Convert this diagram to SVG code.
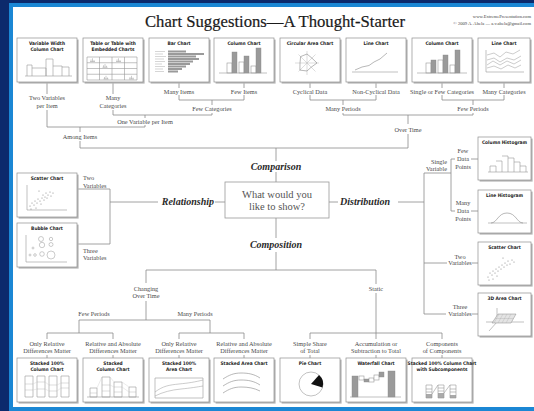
<svg xmlns="http://www.w3.org/2000/svg" width="534" height="411" viewBox="0 0 534 411">
<defs>
<style>
.lbl{font-family:"Liberation Serif",serif;font-size:6.3px;fill:#4a4a4a;text-anchor:middle}
.lbll{font-family:"Liberation Serif",serif;font-size:6.3px;fill:#4a4a4a}
.lble{font-family:"Liberation Serif",serif;font-size:6.3px;fill:#4a4a4a;text-anchor:end}
.cat{font-family:"Liberation Serif",serif;font-size:10px;font-weight:bold;font-style:italic;fill:#2a2a2a}
.bt{font-family:"Liberation Sans Narrow","DejaVu Sans Condensed","Liberation Sans",sans-serif;font-stretch:condensed;font-size:4.8px;font-weight:bold;fill:#222;text-anchor:middle}
.ln{stroke:#8c8c8c;stroke-width:0.8;fill:none}
.box{fill:#fff;stroke:#8f8f8f;stroke-width:0.7}
.sh{fill:#b5b5b5}
.cl{stroke:#999;stroke-width:0.6;fill:none}
.cw{stroke:#999;stroke-width:0.6;fill:#fff}
.cg{fill:#9a9a9a;stroke:#888;stroke-width:0.4}
.dot{fill:#888}
</style>
<g id="frame60"><rect class="sh" x="1.6" y="1.6" width="60" height="44"/><rect class="box" x="0" y="0" width="60" height="44"/></g>
<g id="frame53"><rect class="sh" x="1.6" y="1.6" width="53" height="43"/><rect class="box" x="0" y="0" width="53" height="43"/></g>
<path id="ic" d="M0,0h5M1,0v-2M2.5,0v-3.2M4,0v-1.5" stroke="#999" stroke-width="0.5" fill="none"/>
</defs>
<rect x="0" y="0" width="534" height="411" fill="#0c2a6c"/>
<rect x="9" y="3" width="525" height="408" fill="#1b87d4"/>
<rect x="13" y="7" width="521" height="400" fill="#ffffff"/>

<text x="275" y="27" font-family="Liberation Serif,serif" font-size="17" fill="#1a1a1a" stroke="#1a1a1a" stroke-width="0.2" text-anchor="middle" textLength="260" lengthAdjust="spacingAndGlyphs">Chart Suggestions—A Thought-Starter</text>
<text x="531" y="18" font-family="Liberation Serif,serif" font-size="4.6" fill="#444" text-anchor="end">www.ExtremePresentation.com</text>
<text x="531" y="25" font-family="Liberation Serif,serif" font-size="4.6" fill="#444" text-anchor="end">© 2009  A. Abela — a.v.abela@gmail.com</text>

<g id="connectors" class="ln">
<path d="M47,82V94M113,82V94M179,82V88M244,82V88M310,82V88M376,82V88M442,82V88M504,82V88"/>
<path d="M179,95V100H244V95M212,100V105M212,113V115H113V110M145,115V118M145,125V127H47V110M80,127V132M80,141V148H408M276,148V161M276,172V182"/>
<path d="M310,95V100H376V95M343,100V105M343,113V115H473V113M473,105V100M442,95V100H504V95M408,115V124M408,134V148"/>
<path d="M276,218V238M276,252V270M146,270H376M146,270V283M146,301V320M79,320H210M79,320V333M47,333H113M47,333V339M113,333V339M210,320V333M179,333H244M179,333V339M244,333V339M376,270V284M376,293V339M310,333H442M310,333V339M442,333V339"/>
<path d="M47,355V358M113,355V358M179,355V358M244,355V358M310,355V358M376,355V358M442,355V358"/>
<path d="M225,202H215M158,202H110M77,189H110V244H77"/>
<path d="M329,202H338M398,202H424M424,173V314M424,173H451M451,159V211M451,159H455M471,159H478M451,211H455M471,211H478M424,263H447M472,263H478M424,314H446M472,314H478"/>
</g>

<g id="labels">
<text class="lbl" x="47" y="100">Two Variables</text><text class="lbl" x="47" y="108">per Item</text>
<text class="lbl" x="113" y="100">Many</text><text class="lbl" x="113" y="108">Categories</text>
<text class="lbl" x="179" y="94">Many Items</text>
<text class="lbl" x="244" y="94">Few Items</text>
<text class="lbl" x="310" y="94">Cyclical Data</text>
<text class="lbl" x="376" y="94">Non-Cyclical Data</text>
<text class="lbl" x="442" y="94">Single or Few Categories</text>
<text class="lbl" x="504" y="94">Many Categories</text>
<text class="lbl" x="212" y="111">Few Categories</text>
<text class="lbl" x="343" y="111">Many Periods</text>
<text class="lbl" x="473" y="111">Few Periods</text>
<text class="lbl" x="145" y="124">One Variable per Item</text>
<text class="lbl" x="80" y="139">Among Items</text>
<text class="lbl" x="408" y="132">Over Time</text>
<text class="lbll" x="83" y="180">Two</text><text class="lbll" x="83" y="188">Variables</text>
<text class="lbll" x="83" y="253">Three</text><text class="lbll" x="83" y="260">Variables</text>
<text class="lble" x="447" y="164">Single</text><text class="lble" x="447" y="171">Variable</text>
<text class="lbl" x="463" y="153">Few</text><text class="lbl" x="463" y="161">Data</text><text class="lbl" x="463" y="169">Points</text>
<text class="lbl" x="463" y="205">Many</text><text class="lbl" x="463" y="213">Data</text><text class="lbl" x="463" y="221">Points</text>
<text class="lbl" x="460" y="259">Two</text><text class="lbl" x="460" y="265">Variables</text>
<text class="lbl" x="460" y="309">Three</text><text class="lbl" x="460" y="316">Variables</text>
<text class="lbl" x="146" y="291">Changing</text><text class="lbl" x="146" y="298">Over Time</text>
<text class="lbl" x="376" y="291">Static</text>
<text class="lbl" x="94" y="316">Few Periods</text>
<text class="lbl" x="195" y="316">Many Periods</text>
<text class="lbl" x="47" y="346">Only Relative</text><text class="lbl" x="47" y="353">Differences Matter</text>
<text class="lbl" x="113" y="346">Relative and Absolute</text><text class="lbl" x="113" y="353">Differences Matter</text>
<text class="lbl" x="179" y="346">Only Relative</text><text class="lbl" x="179" y="353">Differences Matter</text>
<text class="lbl" x="244" y="346">Relative and Absolute</text><text class="lbl" x="244" y="353">Differences Matter</text>
<text class="lbl" x="310" y="346">Simple Share</text><text class="lbl" x="310" y="353">of Total</text>
<text class="lbl" x="376" y="346">Accumulation or</text><text class="lbl" x="376" y="353">Subtraction to Total</text>
<text class="lbl" x="442" y="346">Components</text><text class="lbl" x="442" y="353">of Components</text>
</g>

<g id="center">
<rect x="225" y="182" width="104" height="36" fill="#fff" stroke="#999" stroke-width="0.8"/>
<text x="277" y="198" font-family="Liberation Serif,serif" font-size="10.5" fill="#555" text-anchor="middle">What would you</text>
<text x="277" y="210" font-family="Liberation Serif,serif" font-size="10.5" fill="#555" text-anchor="middle">like to show?</text>
</g>
<g id="comparison"><text class="cat" x="276" y="170" text-anchor="middle">Comparison</text></g>
<g id="composition"><text class="cat" x="276" y="248" text-anchor="middle">Composition</text></g>
<g id="relationship"><text class="cat" x="214" y="205" text-anchor="end">Relationship</text></g>
<g id="distribution"><text class="cat" x="340" y="205">Distribution</text></g>

<!-- top row -->
<g id="variable-width-column" transform="translate(17,38)"><use href="#frame60"/>
<text class="bt" x="30" y="7">Variable Width</text><text class="bt" x="30" y="12.5">Column Chart</text>
<path class="cl" d="M8,38H55M10,38V27H15V38M15,30H29V38M29,38V21H36V38M36,28H45V38M45,29H52V38"/>
</g>
<g id="table" transform="translate(83,38)"><use href="#frame60"/>
<text class="bt" x="30" y="7">Table or Table with</text><text class="bt" x="30" y="12.5">Embedded Charts</text>
<path class="cl" d="M4,19H54V42H4ZM16.5,19V42M29,19V42M41.5,19V42M4,24.75H54M4,30.5H54M4,36.25H54"/>
<use href="#ic" x="7" y="23.5"/><use href="#ic" x="33" y="23.5"/><use href="#ic" x="19.5" y="29.3"/><use href="#ic" x="20.5" y="41"/><use href="#ic" x="46" y="41"/>
</g>
<g id="bar-chart" transform="translate(149,38)"><use href="#frame60"/>
<text class="bt" x="30" y="7">Bar Chart</text>
<path d="M6,13.5H16M6,16H14M6,18.5H17M6,21H15M6,23.5H16M6,26H13M6,28.5H16M6,31H14M6,33.5H15" stroke="#bbb" stroke-width="0.6"/>
<g fill="#9a9a9a"><rect x="19" y="12.5" width="18" height="2"/><rect x="19" y="15" width="36" height="2"/><rect x="19" y="17.5" width="28" height="2"/><rect x="19" y="20" width="31" height="2"/><rect x="19" y="22.5" width="25" height="2"/><rect x="19" y="25" width="22" height="2"/><rect x="19" y="27.5" width="18" height="2"/><rect x="19" y="30" width="14" height="2"/><rect x="19" y="32.5" width="10" height="2"/></g>
</g>
<g id="column-chart-1" transform="translate(214,38)"><use href="#frame60"/>
<text class="bt" x="30" y="7">Column Chart</text>
<rect class="cw" x="13" y="25" width="5" height="10"/><rect class="cg" x="18" y="14" width="5" height="21"/>
<rect class="cw" x="25" y="24" width="5" height="11"/><rect class="cg" x="30" y="18" width="5" height="17"/>
<rect class="cw" x="37" y="28" width="5" height="7"/><rect class="cg" x="42" y="10" width="5" height="25"/>
<path class="cl" d="M5,35H53"/>
</g>
<g id="circular-area" transform="translate(280,38)"><use href="#frame60"/>
<text class="bt" x="30" y="7">Circular Area Chart</text>
<path d="M27,25L27,13M27,25L35.5,16.5M27,25L39,25M27,25L35.5,33.5M27,25L27,37M27,25L18.5,33.5M27,25L15,25M27,25L18.5,16.5" stroke="#bbb" stroke-width="0.5"/>
<path d="M27,16L31.9,20.1L37,25L31.2,29.2L27,33L19.9,32.1L20,25L20.6,18.6Z" fill="none" stroke="#888" stroke-width="0.6"/>
</g>
<g id="line-chart-1" transform="translate(346,38)"><use href="#frame60"/>
<text class="bt" x="30" y="7">Line Chart</text>
<path class="cl" d="M6,34H52"/>
<path d="M9,32L16,29L23,27.5L28,24L34,21L41,15" stroke="#888" stroke-width="0.6" fill="none"/>
</g>
<g id="column-chart-2" transform="translate(412,38)"><use href="#frame60"/>
<text class="bt" x="30" y="7">Column Chart</text>
<rect class="cw" x="14" y="25" width="5" height="10"/><rect class="cg" x="19" y="22" width="5" height="13"/>
<rect class="cw" x="26" y="22" width="5" height="13"/><rect class="cg" x="31" y="17" width="5" height="18"/>
<rect class="cw" x="38" y="27" width="5" height="8"/><rect class="cg" x="43" y="12" width="5" height="23"/>
<path class="cl" d="M5,35H55"/>
</g>
<g id="line-chart-2" transform="translate(478,38)">
<rect class="sh" x="1.6" y="1.6" width="52" height="44"/><rect class="box" x="0" y="0" width="52" height="44"/>
<text class="bt" x="26" y="7">Line Chart</text>
<path class="cl" d="M8,12V34H46"/>
<path d="M9,17L16,15L22,19L28,14L35,16L42,12M9,22L16,20L22,24L29,20L36,22L43,18M9,27L15,23L22,27L29,23L36,26L43,22M9,30L16,28L23,31L30,27L37,30L43,27" stroke="#999" stroke-width="0.5" fill="none"/>
</g>

<!-- relationship -->
<g id="scatter-left" transform="translate(17,173)"><use href="#frame60"/>
<text class="bt" x="30" y="7">Scatter Chart</text>
<path class="cl" d="M10,12V37H50"/>
<g class="dot"><circle cx="13" cy="33" r="0.6"/><circle cx="15" cy="30" r="0.6"/><circle cx="17" cy="32" r="0.6"/><circle cx="18" cy="28" r="0.6"/><circle cx="20" cy="30" r="0.6"/><circle cx="21" cy="26" r="0.6"/><circle cx="23" cy="28" r="0.6"/><circle cx="24" cy="31" r="0.6"/><circle cx="25" cy="25" r="0.6"/><circle cx="26" cy="22" r="0.6"/><circle cx="27" cy="27" r="0.6"/><circle cx="28" cy="24" r="0.6"/><circle cx="29" cy="20" r="0.6"/><circle cx="30" cy="25" r="0.6"/><circle cx="31" cy="22" r="0.6"/><circle cx="33" cy="19" r="0.6"/><circle cx="34" cy="23" r="0.6"/><circle cx="36" cy="20" r="0.6"/><circle cx="22" cy="18" r="0.6"/><circle cx="14" cy="36" r="0.6"/><circle cx="19" cy="35" r="0.6"/></g>
</g>
<g id="bubble" transform="translate(17,223)"><use href="#frame60"/>
<text class="bt" x="30" y="7">Bubble Chart</text>
<path class="cl" d="M9,12V39H50"/>
<g fill="none" stroke="#999" stroke-width="0.5"><circle cx="24" cy="16" r="2.5"/><circle cx="34" cy="16" r="1.7"/><circle cx="25" cy="22" r="2.7"/><circle cx="34" cy="21.5" r="2"/><circle cx="16" cy="25" r="1"/><circle cx="25" cy="31" r="2.3"/><circle cx="34" cy="32" r="4"/><circle cx="13" cy="32" r="1"/><circle cx="18" cy="32" r="1.3"/></g>
</g>

<!-- distribution -->
<g id="column-histogram" transform="translate(478,137)"><use href="#frame53"/>
<text class="bt" x="26.5" y="7">Column Histogram</text>
<path class="cl" d="M10,35H50M12,35V29H18V35M18,24H24V35M24,19H30V35M30,21H36V35M36,25H42V35M42,29H48V35"/>
</g>
<g id="line-histogram" transform="translate(478,190)"><use href="#frame53"/>
<text class="bt" x="26.5" y="7">Line Histogram</text>
<path class="cl" d="M10,33H49"/>
<path d="M13,33C19,33 20,23 29,23C38,23 39,33 45,33" stroke="#888" stroke-width="0.6" fill="none"/>
</g>
<g id="scatter-right" transform="translate(478,242)"><use href="#frame53"/>
<text class="bt" x="26.5" y="7">Scatter Chart</text>
<g class="dot"><circle cx="10" cy="35" r="0.6"/><circle cx="12" cy="31" r="0.6"/><circle cx="14" cy="33" r="0.6"/><circle cx="15" cy="29" r="0.6"/><circle cx="17" cy="31" r="0.6"/><circle cx="18" cy="27" r="0.6"/><circle cx="20" cy="29" r="0.6"/><circle cx="21" cy="25" r="0.6"/><circle cx="23" cy="27" r="0.6"/><circle cx="24" cy="23" r="0.6"/><circle cx="26" cy="25" r="0.6"/><circle cx="27" cy="21" r="0.6"/><circle cx="29" cy="23" r="0.6"/><circle cx="30" cy="19" r="0.6"/><circle cx="32" cy="22" r="0.6"/><circle cx="34" cy="18" r="0.6"/><circle cx="36" cy="20" r="0.6"/><circle cx="25" cy="16" r="0.6"/><circle cx="11" cy="38" r="0.6"/><circle cx="15" cy="37" r="0.6"/><circle cx="19" cy="34" r="0.6"/></g>
</g>
<g id="area-3d" transform="translate(478,293)"><use href="#frame53"/>
<text class="bt" x="26.5" y="7">3D Area Chart</text>
<path class="cl" d="M8,29H46M19,15V29L11,38"/>
<path d="M14,30L20,21H38L33,30Z" fill="#e4e4e4" stroke="#888" stroke-width="0.5"/>
<path d="M17,25.5H35M21,21L16,30M25,21L20,30M29,21L24,30M33,21L28,30" stroke="#aaa" stroke-width="0.35" fill="none"/>
</g>

<!-- bottom row -->
<g id="stacked-100-column" transform="translate(17,358)"><use href="#frame60"/>
<text class="bt" x="30" y="7">Stacked 100%</text><text class="bt" x="30" y="12.5">Column Chart</text>
<path class="cl" d="M8,18H16V39H8ZM20,18H28V39H20ZM32,18H40V39H32ZM44,18H52V39H44Z"/>
<path d="M8,26H16M8,32H16M20,24H28M20,31H28M32,27H40M32,33H40M44,25H52M44,30H52" stroke="#aaa" stroke-width="0.4"/>
<path d="M16,26L20,24M16,32L20,31M28,24L32,27M28,31L32,33M40,27L44,25M40,33L44,30" stroke="#ccc" stroke-width="0.4"/>
</g>
<g id="stacked-column" transform="translate(83,358)"><use href="#frame60"/>
<text class="bt" x="30" y="7">Stacked</text><text class="bt" x="30" y="12.5">Column Chart</text>
<path class="cl" d="M7,30H14V39H7ZM19,19H27V39H19ZM31,24H39V39H31ZM46,29H53V39H46Z"/>
<path d="M19,27H27M19,33H27M31,29H39M31,34H39M46,34H53M7,35H14" stroke="#aaa" stroke-width="0.4"/>
<path d="M14,30L19,19M27,19L31,24M39,24L46,29M27,27L31,29M39,29L46,34" stroke="#ccc" stroke-width="0.4"/>
<path class="cl" d="M4,39H56"/>
</g>
<g id="stacked-100-area" transform="translate(149,358)"><use href="#frame60"/>
<text class="bt" x="30" y="7">Stacked 100%</text><text class="bt" x="30" y="12.5">Area Chart</text>
<path class="cl" d="M6,20H54V40H6Z"/>
<path d="M6,34C14,28 20,27 30,26C40,25 46,24 54,22M6,38C14,34 22,32 32,31C42,30 48,29 54,28" stroke="#999" stroke-width="0.5" fill="none"/>
</g>
<g id="stacked-area" transform="translate(214,358)"><use href="#frame60"/>
<text class="bt" x="30" y="7">Stacked Area Chart</text>
<path d="M9,21C15,17 20,15 27,15C34,15 40,16 46,20M9,28C15,24 20,22 27,22C34,22 40,23 46,27M9,35C15,31 20,29 27,29C34,29 40,30 46,33" stroke="#888" stroke-width="0.6" fill="none"/>
</g>
<g id="pie" transform="translate(280,358)"><use href="#frame60"/>
<text class="bt" x="30" y="7">Pie Chart</text>
<circle cx="31" cy="26" r="12" fill="#fff" stroke="#999" stroke-width="0.6"/>
<path d="M31,26L39,17.1A12,12 0 0 1 42.5,29.5Z" fill="#111"/>
</g>
<g id="waterfall" transform="translate(346,358)"><use href="#frame60"/>
<text class="bt" x="30" y="7">Waterfall Chart</text>
<rect class="cg" x="6" y="18" width="6" height="21"/>
<rect class="cw" x="13" y="18" width="5" height="4"/><rect class="cg" x="18" y="21" width="5" height="3"/><rect class="cw" x="23" y="20" width="5" height="4"/><rect class="cw" x="28" y="17" width="5" height="5"/><rect class="cg" x="33" y="14" width="5" height="5"/>
<rect class="cg" x="42" y="13" width="7" height="26"/>
<path class="cl" d="M4,39H55"/>
</g>
<g id="stacked-100-sub" transform="translate(412,358)"><use href="#frame60"/>
<text class="bt" x="30" y="7">Stacked 100% Column Chart</text><text class="bt" x="30" y="12.5">with Subcomponents</text>
<rect x="14" y="36" width="6" height="4" fill="#aaa"/><rect x="26" y="35" width="6" height="5" fill="#aaa"/><rect x="38" y="37" width="6" height="3" fill="#aaa"/>
<path class="cl" d="M14,27H20V40H14ZM26,27H32V40H26ZM38,27H44V40H38ZM14,31H20M14,34H20M26,30H32M26,33H32M38,31H44M38,34H44M20,36L26,27M32,35L38,27"/>
</g>
</svg>
